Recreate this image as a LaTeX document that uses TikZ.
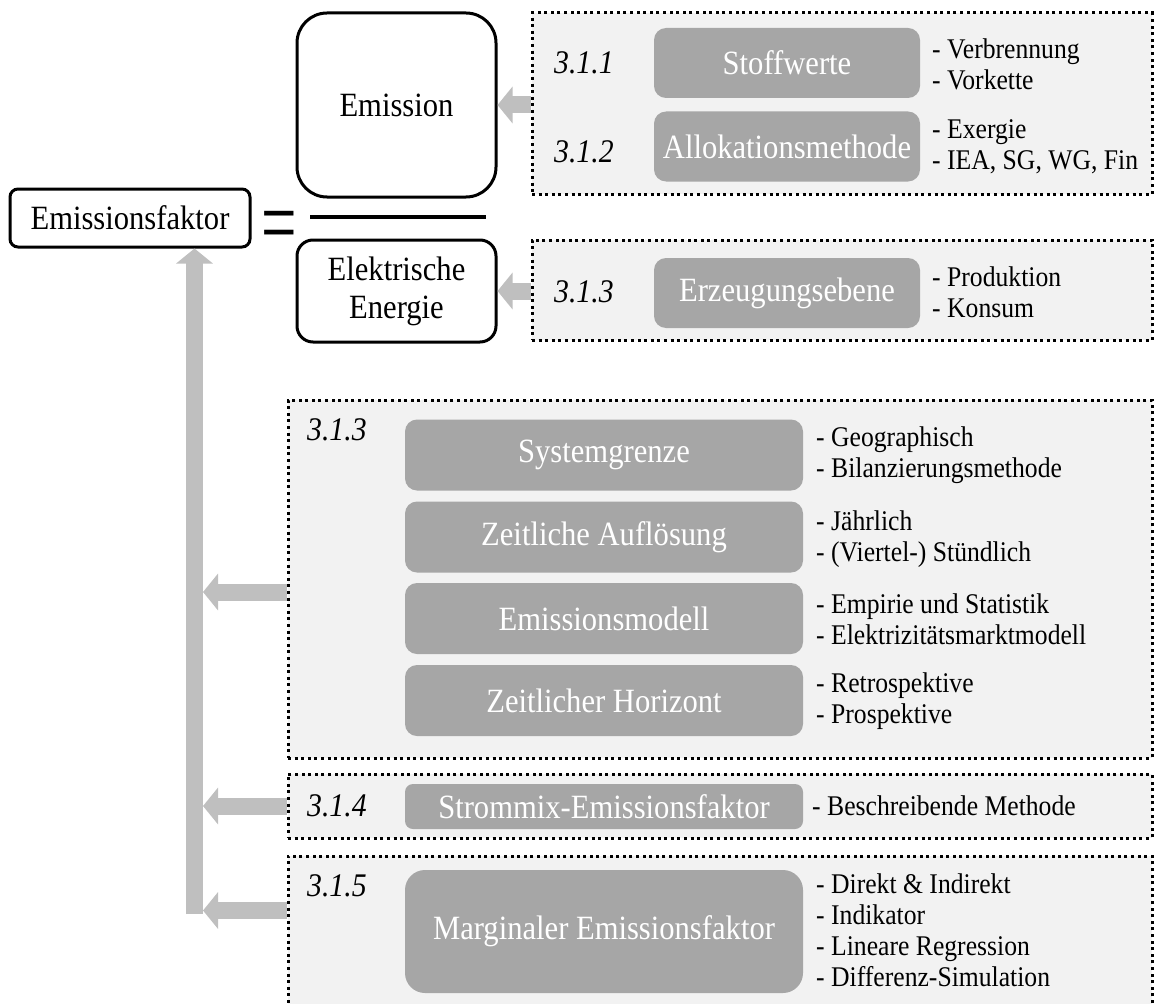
\documentclass[tikz,border=0pt]{standalone}
\usepackage{fontspec}
\setmainfont{Liberation Serif}[FakeStretch=0.9]
\usetikzlibrary{arrows.meta}
\colorlet{mygray}{black!35}
\colorlet{mylight}{black!5}
\colorlet{myarrow}{black!25}

\begin{document}
\begin{tikzpicture}[x=1pt,y=-1pt]
\useasboundingbox (0,0) rectangle (1155,1003);
\tikzset{BoxStyle/.style ={draw, line width=3pt, align=center, inner sep=0, font=\fontsize{34}{38}\selectfont}}
\tikzset{GroupStyle/.style ={draw, fill=mylight, line width=3pt, dash pattern=on 3pt off 3.6pt, inner sep=0}}
\tikzset{ItemStyle/.style ={fill=mygray, text=white, rounded corners=12pt, inner sep=0, minimum height=70pt, font=\fontsize{34}{38}\selectfont}}
\tikzset{NumStyle/.style ={anchor=west, inner sep=0, font=\itshape\fontsize{33}{38}\selectfont}}
\tikzset{ListStyle/.style ={anchor=west, inner sep=0, align=left, font=\fontsize{28.5}{31}\selectfont}}
\tikzset{ArrowStyle/.style ={draw=myarrow, line width=17pt, -{Triangle[width=36pt,length=15pt]}}}
\node[GroupStyle, minimum width=620pt, minimum height=181pt] (grp1) at (842,103.5) {};
\node[GroupStyle, minimum width=620pt, minimum height=100pt] (grp2) at (842,290) {};
\node[GroupStyle, minimum width=864pt, minimum height=358pt] (grp3) at (720,579) {};
\node[GroupStyle, minimum width=864pt, minimum height=64pt] (grp4) at (720,806) {};
\node[GroupStyle, minimum width=864pt, minimum height=174pt] (grp5) at (720,943) {};
\node[BoxStyle, rounded corners=8pt, minimum width=240pt, minimum height=58pt] (faktor) at (130,218) {Emissionsfaktor};
\node[BoxStyle, rounded corners=30pt, minimum width=199pt, minimum height=184pt] (emis) at (396.5,105) {Emission};
\node[BoxStyle, rounded corners=16pt, minimum width=199pt, minimum height=102pt] (energie) at (396.5,291) {Elektrische\\Energie};
\node[inner sep=0, font=\fontsize{70}{70}\selectfont] (eq) at (279.5,233) {\scalebox{1}[1.35]{=}};
\coordinate (fracl) at (310,217);
\coordinate (fracr) at (486,217);
\draw[line width=4pt] (fracl) -- (fracr);
\node[ItemStyle, minimum width=266pt] (stoff) at (787,63) {Stoffwerte};
\node[ItemStyle, minimum width=266pt] (allok) at (787,146.5) {Allokationsmethode};
\node[ItemStyle, minimum width=266pt] (erzeug) at (787,293) {Erzeugungsebene};
\node[ItemStyle, minimum width=398pt, minimum height=71pt] (sysgr) at (604,455) {Systemgrenze};
\node[ItemStyle, minimum width=398pt, minimum height=71pt] (aufl) at (604,537) {Zeitliche Auflösung};
\node[ItemStyle, minimum width=398pt, minimum height=71pt] (modell) at (604,618.5) {Emissionsmodell};
\node[ItemStyle, minimum width=398pt, minimum height=71pt] (horiz) at (604,700.5) {Zeitlicher Horizont};
\node[ItemStyle, rounded corners=8pt, minimum width=398pt, minimum height=45pt] (mix) at (604,806.5) {Strommix-Emissionsfaktor};
\node[ItemStyle, rounded corners=20pt, minimum width=398pt, minimum height=123pt] (marg) at (604,931.5) {Marginaler Emissionsfaktor};
\node[NumStyle] (num1) at (554,63) {3.1.1};
\node[NumStyle] (num2) at (554,152) {3.1.2};
\node[NumStyle] (num3) at (554,292) {3.1.3};
\node[NumStyle] (num4) at (307,430) {3.1.3};
\node[NumStyle] (num5) at (307,806) {3.1.4};
\node[NumStyle] (num6) at (307,886) {3.1.5};
\node[ListStyle] (list1) at (932,64) {- Verbrennung\\- Vorkette};
\node[ListStyle] (list2) at (932,147) {- Exergie\\- IEA, SG, WG, Fin};
\node[ListStyle] (list3) at (932,292) {- Produktion\\- Konsum};
\node[ListStyle] (list4) at (816,455) {- Geographisch\\- Bilanzierungsmethode};
\node[ListStyle] (list5) at (816,539) {- Jährlich\\- (Viertel-) Stündlich};
\node[ListStyle] (list6) at (816,619) {- Empirie und Statistik\\- Elektrizitätsmarktmodell};
\node[ListStyle] (list7) at (816,701) {- Retrospektive\\- Prospektive};
\node[ListStyle] (list8) at (812,806) {- Beschreibende Methode};
\node[ListStyle] (list9) at (816,930) {- Direkt \& Indirekt\\- Indikator\\- Lineare Regression\\- Differenz-Simulation};
\coordinate (barfoot) at (194.5,914);
\coordinate (bar) at (203,0);
\draw[ArrowStyle] (emis.east -| grp1.west) -- (emis.east);
\draw[ArrowStyle] (energie.east -| grp2.west) -- (energie.east);
\draw[ArrowStyle] (barfoot) -- (barfoot |- faktor.south);
\draw[ArrowStyle] ([yshift=-13pt]grp3.west) -- ([yshift=-13pt]grp3.west -| bar);
\draw[ArrowStyle] (grp4.west) -- (grp4.west -| bar);
\draw[ArrowStyle] ([yshift=-56pt]grp5.north west) -- ([yshift=-56pt]grp5.north west -| bar);
\end{tikzpicture}
\end{document}
